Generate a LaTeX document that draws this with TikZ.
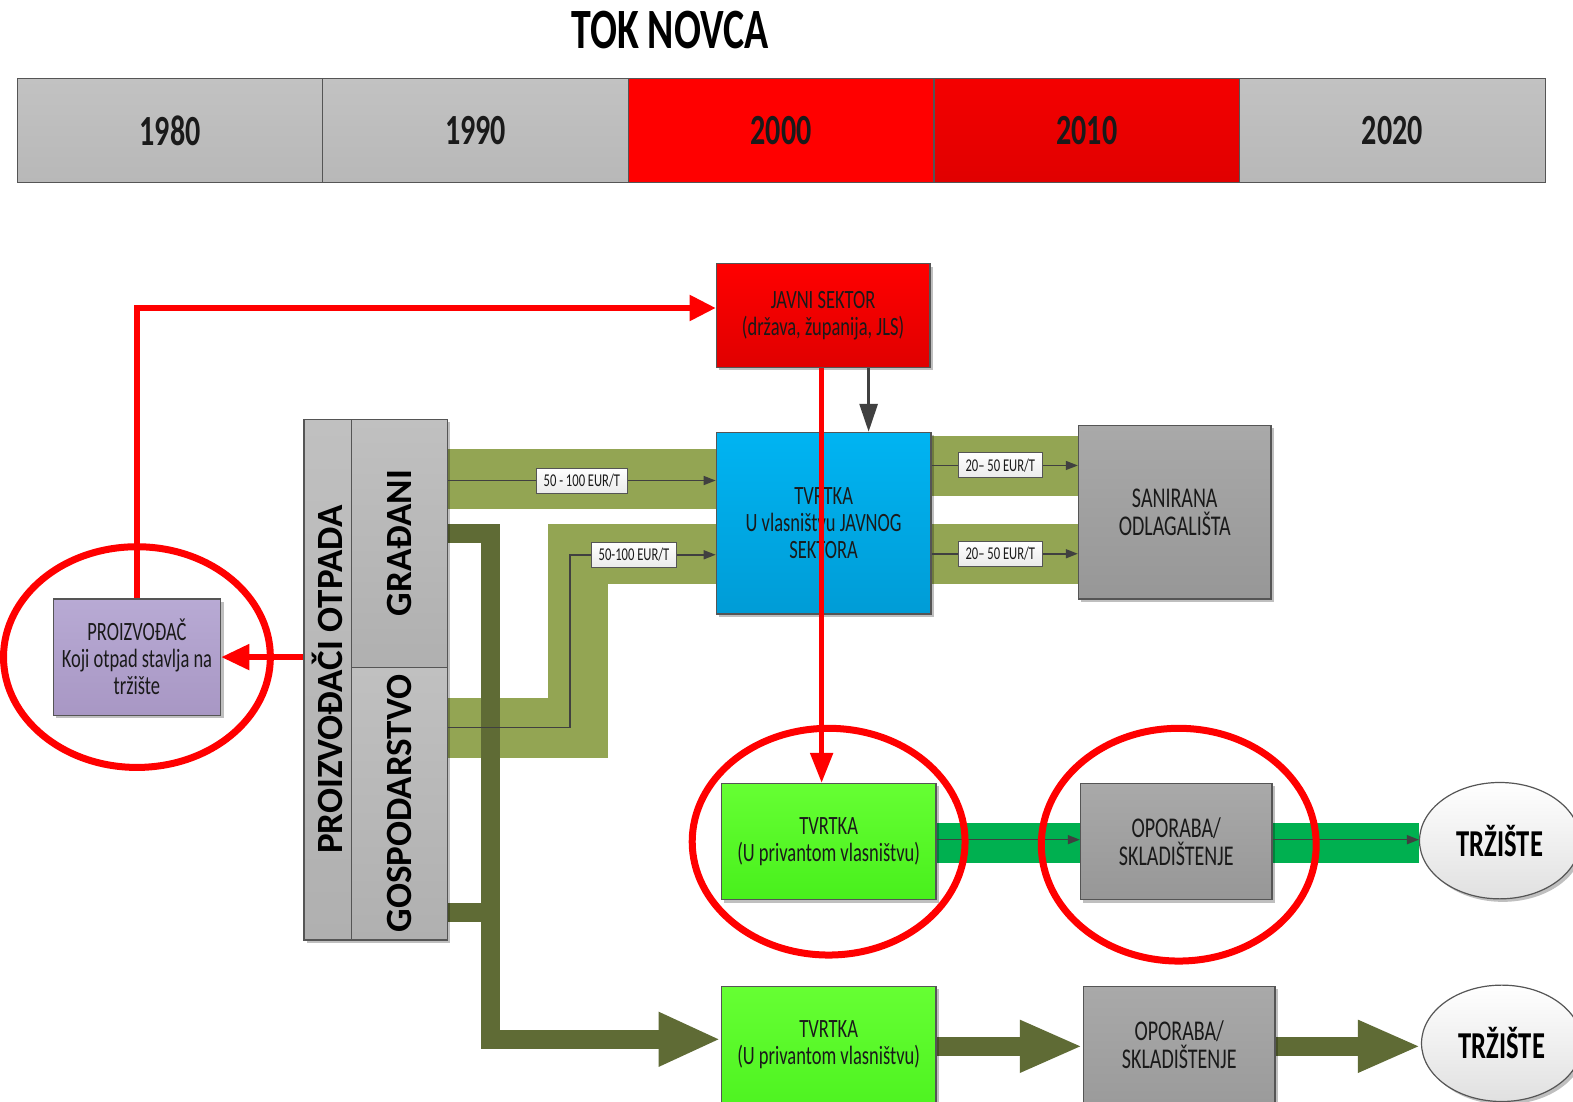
\documentclass[tikz,border=0pt]{standalone}
\usepackage{fontspec}
\setmainfont{Carlito}[FakeStretch=0.7]
\newfontfamily\plainfont{Carlito}
\usetikzlibrary{arrows.meta,shadows,calc,shapes.geometric}
\definecolor{hdrA}{HTML}{C2C2C2}
\definecolor{hdrB}{HTML}{B8B8B8}
\definecolor{redA}{HTML}{FF0000}
\definecolor{redB}{HTML}{E00000}
\definecolor{blueA}{HTML}{00B4F2}
\definecolor{blueB}{HTML}{009CD6}
\definecolor{grayA}{HTML}{A9A9A9}
\definecolor{grayB}{HTML}{979797}
\definecolor{stripA}{HTML}{C0C0C0}
\definecolor{stripB}{HTML}{B0B0B0}
\definecolor{purA}{HTML}{B8AAD4}
\definecolor{purB}{HTML}{A897C4}
\definecolor{limeA}{HTML}{66FF33}
\definecolor{limeB}{HTML}{48F01C}
\definecolor{lolive}{HTML}{93A553}
\definecolor{dolive}{HTML}{5F6B35}
\definecolor{gband}{HTML}{00B050}
\definecolor{txt}{HTML}{1A1A1A}
\definecolor{edge}{HTML}{555555}
\pgfdeclarelayer{bg}
\pgfsetlayers{bg,main}
\begin{document}
\begin{tikzpicture}[x=0.50159pt,y=-0.50159pt,
  wh/.style 2 args={minimum width=#1*0.50159pt, minimum height=#2*0.50159pt},
  shad/.style={drop shadow={shadow xshift=1.5pt, shadow yshift=-1.5pt, opacity=0.25, fill=black}},
  hdr/.style={draw=edge, line width=0.6pt, inner sep=0pt, text=txt,
    font=\bfseries\fontsize{21.5}{24}\selectfont},
  box/.style={draw=edge, line width=0.6pt, inner sep=0pt, align=center, text=txt,
    font=\fontsize{13.2}{13.6}\selectfont, shad},
  gbox/.style={box, top color=grayA, bottom color=grayB, font=\fontsize{14.3}{14.2}\selectfont},
  lbox/.style={box, top color=limeA, bottom color=limeB},
  strip/.style={draw=edge, line width=0.6pt, inner sep=0pt, top color=stripA, bottom color=stripB, shad},
  vtext/.style={font=\plainfont\bfseries\fontsize{18.5}{20}\selectfont},
  market/.style={ellipse, draw=edge, line width=0.6pt, inner sep=0pt, top color=white, bottom color=black!12,
    text=black, font=\bfseries\fontsize{19}{20}\selectfont, shad},
  ring/.style={ellipse, draw=red, line width=3.5pt, inner sep=0pt},
  lband/.style={draw=lolive, line width=30pt, line join=miter},
  dband/.style={draw=dolive, line width=9.5pt, line join=miter},
  gb/.style={draw=gband, line width=20pt},
  thinarrow/.style={draw=black!75, line width=0.75pt, -{Triangle[length=6pt,width=4.5pt]}},
  lbl/.style={draw=edge, line width=0.5pt, top color=white, bottom color=black!8, text=txt,
    font=\fontsize{9}{10}\selectfont, inner xsep=3.6pt, inner ysep=0pt, minimum height=12.5pt},
  redline/.style={draw=red, line width=2.6pt}
]
\useasboundingbox (0,0) rectangle (1568,1098);

% title
\node[text=black, font=\bfseries\fontsize{28.5}{30}\selectfont] (title) at (668,30) {TOK NOVCA};

% header timeline
\node[hdr, wh={304.6}{104}, top color=hdrA, bottom color=hdrB] (y1980) at (169.5,130) {1980};
\node[hdr, wh={304.6}{104}, top color=hdrA, bottom color=hdrB] (y1990) at (474.1,130) {1990};
\node[hdr, wh={304.6}{104}, fill=redA] (y2000) at (778.7,130) {2000};
\node[hdr, wh={304.6}{104}, top color=redA!96!black, bottom color=redB] (y2010) at (1083.3,130) {2010};
\node[hdr, wh={304.6}{104}, top color=hdrA, bottom color=hdrB] (y2020) at (1387.9,130) {2020};

% main boxes
\node[box, wh={213}{103}, top color=redA, bottom color=redB] (javni) at (820.5,314.5)
  {JAVNI SEKTOR\\(država, županija, JLS)};
\node[box, wh={214}{181}, top color=blueA, bottom color=blueB] (blue) at (821,521.5)
  {TVRTKA\\U vlasništvu JAVNOG\\SEKTORA};
\node[gbox, wh={192}{173}] (san) at (1171,510.5) {SANIRANA\\ODLAGALIŠTA};

\node[strip, wh={47}{519}] (prz) at (326.5,677.5)
  {\rotatebox{90}{\plainfont\bfseries\fontsize{18.5}{20}\selectfont PROIZVOĐAČI OTPADA}};
\node[strip, wh={96}{247}] (grad) at (398,541.5)
  {\rotatebox{90}{\plainfont\bfseries\fontsize{18.5}{20}\selectfont GRAĐANI}};
\node[strip, wh={96}{272}] (gosp) at (398,801)
  {\rotatebox{90}{\plainfont\bfseries\fontsize{18.5}{20}\selectfont GOSPODARSTVO}};

\node[box, wh={167}{116}, top color=purA, bottom color=purB] (pro) at (136.5,655)
  {PROIZVOĐAČ\\Koji otpad stavlja na\\tržište};

\node[lbox, wh={214}{116}] (t1) at (826,839) {TVRTKA\\(U privantom vlasništvu)};
\node[gbox, wh={191}{116}] (o1) at (1172.5,839) {OPORABA/\\SKLADIŠTENJE};
\node[market, wh={160}{116}] (m1) at (1495,838) {TRŽIŠTE};

\node[lbox, wh={214}{150}, label={[font=\fontsize{13.2}{13.6}\selectfont, align=center, text=txt, yshift=8.5pt]center:TVRTKA\\(U privantom vlasništvu)}] (t2) at (826,1058) {};
\node[gbox, wh={191}{150}, label={[font=\fontsize{14.3}{14.2}\selectfont, align=center, text=txt, yshift=8.5pt]center:OPORABA/\\SKLADIŠTENJE}] (o2) at (1175.5,1058) {};
\node[market, wh={160}{116}] (m2) at (1497,1040) {TRŽIŠTE};

% bands (background)
\begin{pgfonlayer}{bg}
\fill[white] (0,0) rectangle (1568,1098);
\draw[lband] (grad.east |- 0,477) -- (blue.west |- 0,477);
\draw[lband] (gosp.east |- 0,725.5) -| (576,552.5) -- (blue.west |- 0,552.5);
\draw[lband] (blue.east |- 0,465) -- (san.west |- 0,465);
\draw[lband] (blue.east |- 0,552) -- (san.west |- 0,552);
\draw[dband, -{Triangle[length=31pt,width=25pt]}] (grad.east |- 0,531.5) -| (489,1036) -- (t2.west |- 0,1036);
\draw[dband] (gosp.east |- 0,910) -- (489,910);
\draw[gb] (t1.east |- 0,840) -- (m1.west |- 0,840);
\draw[dband, -{Triangle[length=31.5pt,width=24pt]}] (t2.east |- 0,1043) -- (o2.west |- 0,1043);
\draw[dband, -{Triangle[length=31.5pt,width=24pt]}] (o2.east |- 0,1043) -- (m2.west |- 0,1043);
\end{pgfonlayer}

% thin flow arrows with price labels
\draw[thinarrow] (grad.east |- 0,479) -- node[lbl] (l1) {50 - 100 EUR/T} (blue.west |- 0,479);
\draw[thinarrow] (gosp.east |- 0,725) -| (568,553) -- node[lbl, pos=0.44] (l2) {50-100 EUR/T} (blue.west |- 0,553);
\draw[thinarrow] (blue.east |- 0,464) -- node[lbl, pos=0.47] (l3) {20– 50 EUR/T} (san.west |- 0,464);
\draw[thinarrow] (blue.east |- 0,552) -- node[lbl, pos=0.47] (l4) {20– 50 EUR/T} (san.west |- 0,552);
\draw[thinarrow] (t1.east |- 0,837) -- (o1.west |- 0,837);
\draw[thinarrow] (o1.east |- 0,837) -- (m1.west |- 0,837);

% dark gray arrow javni -> blue
\draw[draw=black!75, line width=1.5pt, -{Triangle[length=14pt,width=9pt]}]
  ([xshift=22.75pt]javni.south) -- ([xshift=22.75pt]javni.south |- blue.north);

% red money flow
\draw[redline, -{Triangle[length=13pt,width=12.5pt]}] (pro.north) |- ([yshift=3.75pt]javni.west);
\draw[redline, -{Triangle[length=14pt,width=12.5pt]}] (prz.west |- pro.east) -- (pro.east);
\draw[redline, -{Triangle[length=15pt,width=11pt]}] ([xshift=-0.75pt]javni.south) -- ([xshift=-0.75pt]javni.south |- t1.north);

% red highlight rings
\node[ring, wh={266}{220}] (r1) at (pro) {};
\node[ring, wh={272}{226}] (r2) at (t1) {};
\node[ring, wh={274}{232}] (r3) at ($(o1)+(2.5,3)$) {};
\end{tikzpicture}
\end{document}
